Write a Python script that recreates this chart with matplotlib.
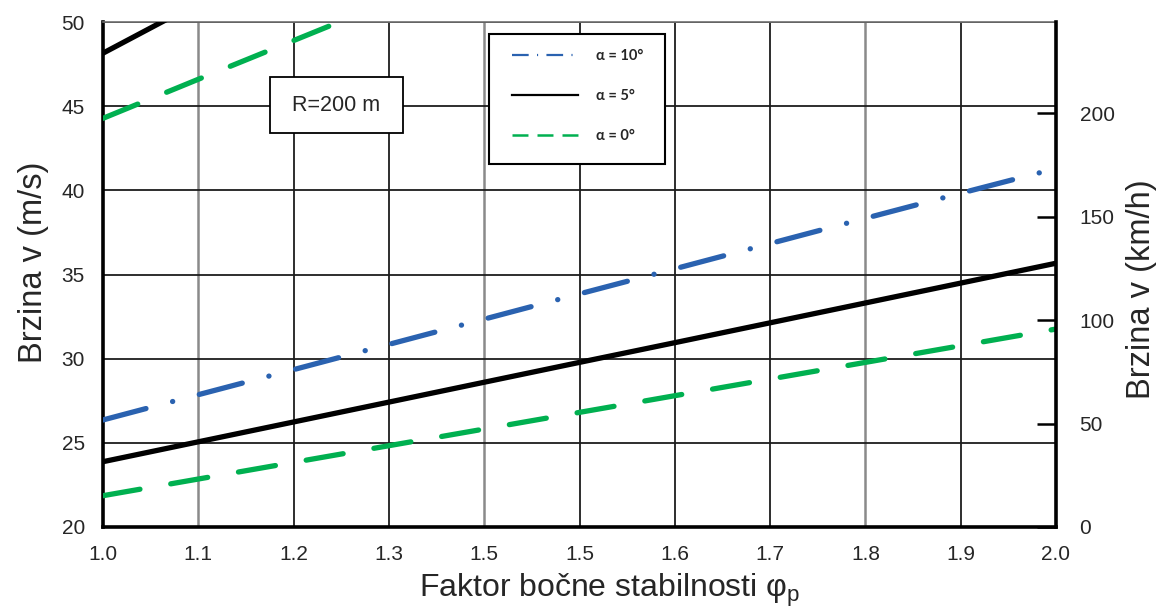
import matplotlib.pyplot as plt
from matplotlib.lines import Line2D
from matplotlib.patches import Rectangle

# Faktor bocne stabilnosti (x) and brzina v in m/s.
phi = [1.0, 1.1, 1.2, 1.3, 1.4, 1.5, 1.6, 1.7, 1.8, 1.9, 2.0]
phi_alpha10 = [1.0, 1.1, 1.2, 1.3, 1.4, 1.5, 1.6, 1.7, 1.8, 1.9, 1.99]
v_alpha10 = [26.36, 27.86, 29.35, 30.85, 32.35, 33.85, 35.34, 36.84, 38.34, 39.83, 41.15]
v_alpha5 = [23.88, 25.06, 26.24, 27.42, 28.60, 29.78, 30.95, 32.13, 33.31, 34.49, 35.67]
v_alpha0 = [21.86, 22.85, 23.84, 24.83, 25.82, 26.81, 27.80, 28.79, 29.78, 30.77, 31.76]

# The R=200 m curves only show their start before leaving the chart.
phi_upper = [1.0, 1.1, 1.2, 1.3]
v_upper_alpha5 = [48.15, 51.15, 54.0, 56.7]
v_upper_alpha0 = [44.28, 46.60, 48.90, 51.20]

x_ticks = [1.0, 1.1, 1.2, 1.3, 1.4, 1.5, 1.6, 1.7, 1.8, 1.9, 2.0]
x_tick_labels = ['1.0', '1.1', '1.2', '1.3', '1.5', '1.5', '1.6', '1.7', '1.8', '1.9', '2.0']
y_ticks = [20, 25, 30, 35, 40, 45, 50]
kmh_ticks = [0, 50, 100, 150, 200]

legend_labels = ['α = 10°', 'α = 5°', 'α = 0°']

BLUE = '#2a62b0'
GREEN = '#00b050'
TEXT = '#262626'

plt.rcParams['font.family'] = ['Liberation Sans', 'DejaVu Sans']
plt.rcParams['lines.scale_dashes'] = False

fig = plt.figure(figsize=(11.68, 6.12), dpi=100)
ax = fig.add_axes([0.0882, 0.1389, 0.8159, 0.8251])

line_kw = dict(linewidth=3.8, dash_capstyle='round', solid_capstyle='round', zorder=3)
dash_dot = (0, (32, 19.8, 0.1, 19.8))
dashed = (0, (27, 22.5))
ax.plot(phi_alpha10, v_alpha10, color=BLUE, linestyle=dash_dot, **line_kw)
ax.plot(phi, v_alpha5, color='black', **line_kw)
ax.plot(phi, v_alpha0, color=GREEN, linestyle=dashed, **line_kw)
ax.plot(phi_upper, v_upper_alpha5, color='black', **line_kw)
ax.plot(phi_upper, v_upper_alpha0, color=GREEN, linestyle=dashed, **line_kw)

ax.set_xlim(1.0, 2.0)
ax.set_ylim(20, 50)
ax.set_xticks(x_ticks)
ax.set_xticklabels(x_tick_labels)
ax.set_yticks(y_ticks)
ax.tick_params(axis='both', length=0, labelsize=15, labelcolor=TEXT, pad=13)

# Grid: some of the vertical lines are lighter grey in the original.
ax.grid(True, color='#1c1c1c', linewidth=1.3, zorder=1)
ax.set_axisbelow(True)
for i, gl in enumerate(ax.xaxis.get_gridlines()):
    if i in (1, 4, 8):
        gl.set_color('#8a8a8a')
        gl.set_linewidth(1.8)

for side in ('left', 'bottom'):
    ax.spines[side].set_linewidth(2.6)
ax.spines['right'].set_visible(False)
ax.spines['top'].set_linewidth(1.2)
ax.spines['top'].set_color('#707070')

ax.set_xlabel('Faktor bočne stabilnosti φ$_{\\mathregular{p}}$', fontsize=23, color=TEXT)
ax.set_ylabel('Brzina v (m/s)', fontsize=23.5, color=TEXT)
ax.xaxis.set_label_coords(0.532, -0.088)
ax.yaxis.set_label_coords(-0.057, 0.524)

# Right axis in km/h.
ax2 = ax.twinx()
ax2.set_ylim(0, 244)
ax2.set_yticks(kmh_ticks)
ax2.tick_params(axis='y', direction='in', length=14, width=1.8, labelsize=15,
                labelcolor=TEXT, pad=17)
ax2.spines['right'].set_linewidth(2.6)
for side in ('left', 'bottom', 'top'):
    ax2.spines[side].set_visible(False)
ax2.set_ylabel('Brzina v (km/h)', fontsize=23.5, color=TEXT)
ax2.yaxis.set_label_coords(1.0735, 0.471)

# Text box with the curve radius.
ax2.add_patch(Rectangle((0.1752, 0.780), 0.1396, 0.111, transform=ax.transAxes,
                        facecolor='white', edgecolor='black', linewidth=1.3, zorder=4))
ax2.text(0.2445, 0.8356, 'R=200 m', transform=ax.transAxes, fontsize=15.5, color=TEXT,
         ha='center', va='center', zorder=5)

# Legend box and thin sample lines.
ax2.add_patch(Rectangle((0.405, 0.719), 0.185, 0.257, transform=ax.transAxes,
                        facecolor='white', edgecolor='black', linewidth=1.5, zorder=4))
handles = [
    Line2D([], [], color=BLUE, linewidth=1.6, linestyle=(0, (12, 6, 0.8, 6))),
    Line2D([], [], color='black', linewidth=1.6),
    Line2D([], [], color=GREEN, linewidth=1.8, linestyle=(0, (11.5, 6.5))),
]
leg = ax2.legend(handles, legend_labels, loc='upper left', bbox_to_anchor=(0.429, 0.947),
                 bbox_transform=ax.transAxes, frameon=False, borderpad=0, borderaxespad=0,
                 handlelength=4.52, handletextpad=1.24, labelspacing=1.8,
                 prop={'family': 'Lato', 'weight': 'bold', 'size': 10.5})
leg.set_zorder(6)
for t in leg.get_texts():
    t.set_color(TEXT)

fig.savefig('out.png', dpi=100)
